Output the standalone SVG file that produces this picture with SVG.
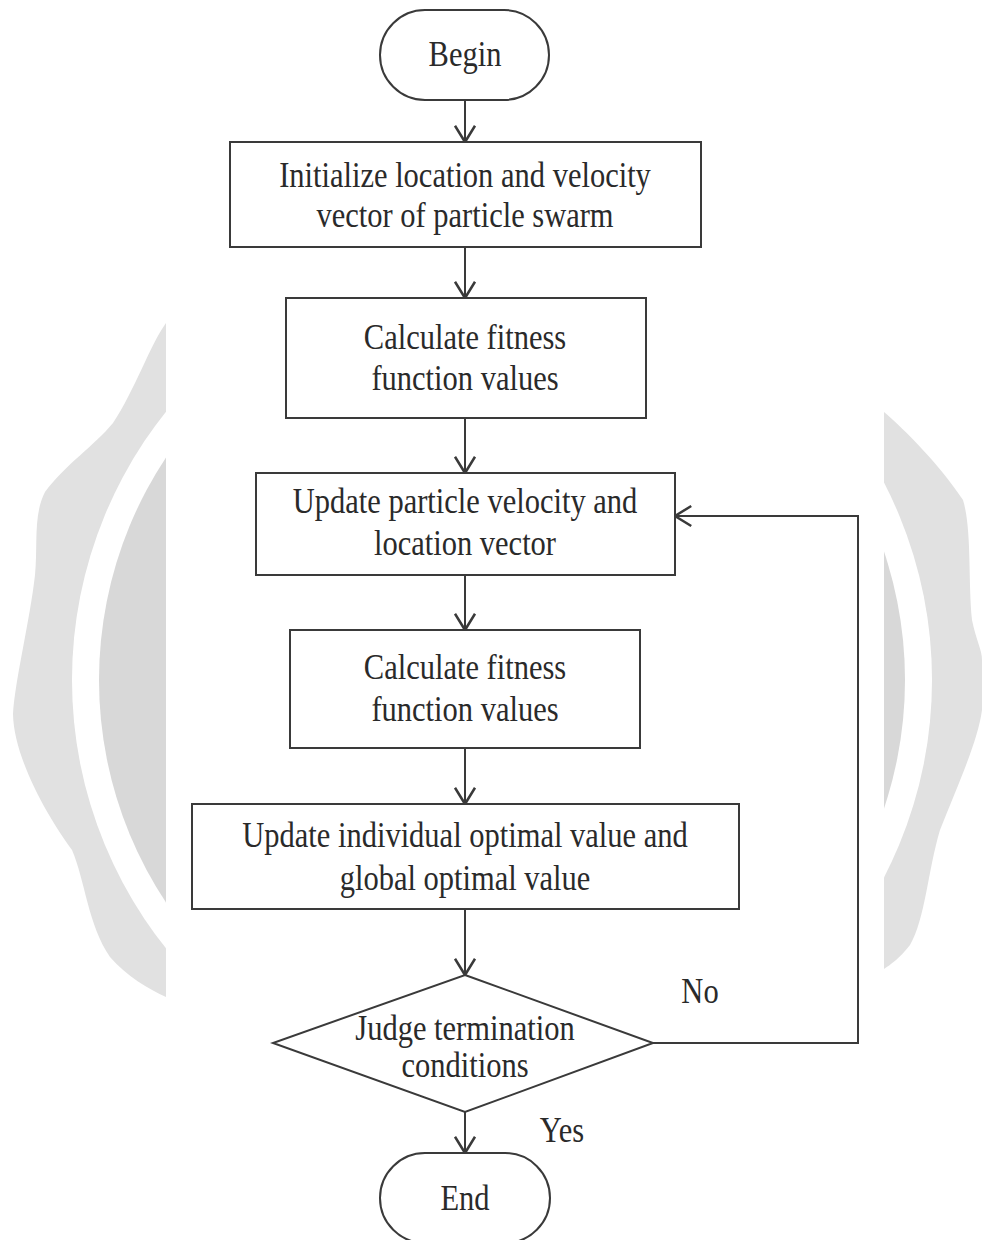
<svg xmlns="http://www.w3.org/2000/svg" width="982" height="1240" viewBox="0 0 982 1240">
<defs>
<style>
.box{fill:#fff;stroke:#3a3a3a;stroke-width:2}
.lbl{font-family:"Liberation Serif","Times New Roman",serif;font-size:30.5px;fill:#2a2a2a;text-anchor:middle}
.con{fill:none;stroke:#3a3a3a;stroke-width:2}
</style>
<marker id="arr" markerUnits="userSpaceOnUse" markerWidth="30" markerHeight="30" viewBox="-15 -12 18 24" refX="0" refY="0" orient="auto">
<path d="M-13,-8 L0,0 L-13,8" fill="none" stroke="#3a3a3a" stroke-width="2"/>
</marker>
<clipPath id="wmclip">
<rect x="0" y="0" width="166" height="1240"/>
<rect x="884" y="0" width="98" height="1240"/>
</clipPath>
</defs>
<rect x="0" y="0" width="982" height="1240" fill="#fff"/>
<g id="watermark">
<path d="M166,323 C150,345 135,390 113,423 C95,445 65,465 45,492 C33,515 38,545 35,575 C30,620 15,680 13,714 C14,760 50,820 72,850 C85,880 88,925 110,957 C125,975 150,990 166,997 Z" fill="#e1e1e1"/>
<path d="M884,412 C905,430 940,465 963,500 C972,530 968,580 972,620 C976,640 982,650 982,660 L982,710 C978,740 960,780 940,830 C928,870 925,920 910,945 C900,958 890,965 884,969 Z" fill="#e1e1e1"/>
<g clip-path="url(#wmclip)">
<circle cx="502" cy="680" r="430" fill="#fff"/>
<circle cx="502" cy="680" r="403" fill="#d8d8d8"/>
</g>
</g>
<g id="connectors">
<line class="con" x1="465" y1="100" x2="465" y2="142" marker-end="url(#arr)"/>
<line class="con" x1="465" y1="247" x2="465" y2="298" marker-end="url(#arr)"/>
<line class="con" x1="465" y1="418" x2="465" y2="473" marker-end="url(#arr)"/>
<line class="con" x1="465" y1="575" x2="465" y2="630" marker-end="url(#arr)"/>
<line class="con" x1="465" y1="748" x2="465" y2="804" marker-end="url(#arr)"/>
<line class="con" x1="465" y1="909" x2="465" y2="975" marker-end="url(#arr)"/>
<line class="con" x1="465" y1="1112" x2="465" y2="1153" marker-end="url(#arr)"/>
<polyline class="con" points="653,1043 858,1043 858,516 675,516" marker-end="url(#arr)"/>
<text class="lbl" transform="translate(700,1003) scale(1,1.17)">No</text>
<text class="lbl" transform="translate(562,1142) scale(1,1.17)">Yes</text>
</g>
<g id="begin">
<rect class="box" x="380" y="10" width="169" height="90" rx="45" ry="45"/>
<text class="lbl" transform="translate(465,66) scale(1,1.17)">Begin</text>
</g>
<g id="init">
<rect class="box" x="230" y="142" width="471" height="105"/>
<text class="lbl" transform="translate(465,187) scale(1,1.17)"><tspan x="0" y="0">Initialize location and velocity</tspan><tspan x="0" y="34.2">vector of particle swarm</tspan></text>
</g>
<g id="fitness1">
<rect class="box" x="286" y="298" width="360" height="120"/>
<text class="lbl" transform="translate(465,349) scale(1,1.17)"><tspan x="0" y="0">Calculate fitness</tspan><tspan x="0" y="35">function values</tspan></text>
</g>
<g id="update">
<rect class="box" x="256" y="473" width="419" height="102"/>
<text class="lbl" transform="translate(465,513) scale(1,1.17)"><tspan x="0" y="0">Update particle velocity and</tspan><tspan x="0" y="35.9">location vector</tspan></text>
</g>
<g id="fitness2">
<rect class="box" x="290" y="630" width="350" height="118"/>
<text class="lbl" transform="translate(465,679) scale(1,1.17)"><tspan x="0" y="0">Calculate fitness</tspan><tspan x="0" y="35.9">function values</tspan></text>
</g>
<g id="optimal">
<rect class="box" x="192" y="804" width="547" height="105"/>
<text class="lbl" transform="translate(465,847) scale(1,1.17)"><tspan x="0" y="0">Update individual optimal value and</tspan><tspan x="0" y="36.8">global optimal value</tspan></text>
</g>
<g id="judge">
<polygon class="box" points="465,975 653,1043 465,1112 273,1043"/>
<text class="lbl" transform="translate(465,1040) scale(1,1.17)"><tspan x="0" y="0">Judge termination</tspan><tspan x="0" y="31.6">conditions</tspan></text>
</g>
<g id="end">
<rect class="box" x="380" y="1153" width="170" height="90" rx="45" ry="45"/>
<text class="lbl" transform="translate(465,1210) scale(1,1.17)">End</text>
</g>
</svg>
